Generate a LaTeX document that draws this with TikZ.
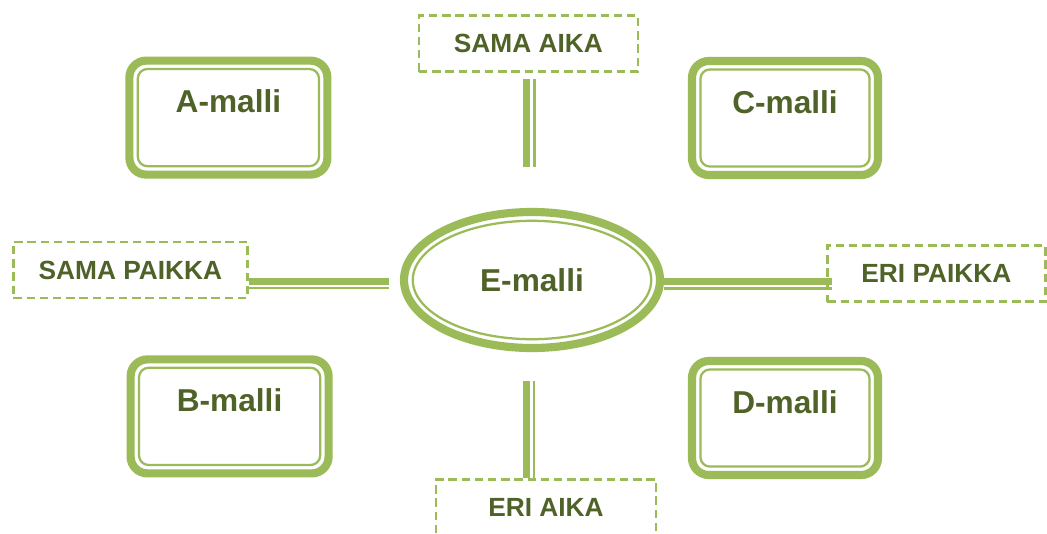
\documentclass[tikz,border=0pt]{standalone}
\usepackage{fontspec}
\setmainfont{Liberation Sans}
\usepackage{xcolor}
\usetikzlibrary{shapes.geometric,positioning}
\definecolor{leafgreen}{HTML}{9BBB59}
\definecolor{olivetext}{HTML}{4F6228}

\begin{document}
\begin{tikzpicture}[
    model/.style={rectangle, draw=leafgreen, line width=5.8pt, fill=white, rounded corners=0.42cm, minimum width=4.95cm, minimum height=2.85cm, inner sep=0pt, text height=0.6cm, text depth=0.85cm, text=olivetext, font=\bfseries\fontsize{22.5}{27}\selectfont,
        path picture={\draw[leafgreen, line width=1.6pt, rounded corners=0.24cm] ([shift={(0.21cm,0.21cm)}]path picture bounding box.south west) rectangle ([shift={(-0.21cm,-0.21cm)}]path picture bounding box.north east);}},
    core/.style={ellipse, draw=leafgreen, line width=5.8pt, fill=white, minimum width=6.4cm, minimum height=3.4cm, inner sep=0pt, text=olivetext, font=\bfseries\fontsize{22.5}{27}\selectfont,
        path picture={\draw[leafgreen, line width=1.6pt] (path picture bounding box.center) ellipse [x radius=2.98cm, y radius=1.48cm];}},
    tag/.style={rectangle, draw=leafgreen, line width=1.7pt, dash pattern=on 0.21cm off 0.12cm, minimum height=1.4cm, inner sep=0pt, text=olivetext, font=\bfseries\fontsize{18.7}{22}\selectfont},
    bar/.style={draw=leafgreen, line width=5.2pt},
    rail/.style={draw=leafgreen, line width=2pt}
]
    \useasboundingbox (0,0) rectangle (26.175,-13.325);

    % Centre ellipse
    \node[core] (emalli) at (13.3,-7.0) {E-malli};

    % Model boxes in the four corners
    \node[model] (amalli) at (5.71,-2.94) {A-malli};
    \node[model] (bmalli) at (5.74,-10.41) {B-malli};
    \node[model, minimum width=4.65cm] (cmalli) at (19.625,-2.95) {C-malli};
    \node[model, minimum width=4.65cm] (dmalli) at (19.625,-10.45) {D-malli};

    % Dashed labels
    \node[tag, minimum width=5.47cm] (samaaika) at (13.21,-1.09) {SAMA AIKA};
    \node[tag, minimum width=5.85cm] (samapaikka) at (3.26,-6.75) {SAMA PAIKKA};
    \node[tag, minimum width=5.45cm] (eripaikka) at (23.41,-6.84) {ERI PAIKKA};
    \node[tag, minimum width=5.5cm] (eriaika) at (13.65,-12.69) {ERI AIKA};

    % Thick-thin links (thick bar plus thin rail beside it)
    \draw[bar, transform canvas={xshift=-0.05cm}, shorten <=0.16cm, shorten >=1.03cm] (samaaika.south) -- (samaaika.south |- emalli.north);
    \draw[rail, transform canvas={xshift=0.145cm}, shorten <=0.16cm, shorten >=1.03cm] (samaaika.south) -- (samaaika.south |- emalli.north);

    \draw[bar, transform canvas={xshift=-0.14cm}, shorten <=0.72cm] (emalli.south) -- (emalli.south |- eriaika.north);
    \draw[rail, transform canvas={xshift=0.05cm}, shorten <=0.72cm] (emalli.south) -- (emalli.south |- eriaika.north);

    \draw[bar, transform canvas={yshift=-0.04cm}, shorten >=0.28cm] (samapaikka.east |- emalli.west) -- (emalli.west);
    \draw[rail, transform canvas={yshift=-0.2cm}, shorten >=0.28cm] (samapaikka.east |- emalli.west) -- (emalli.west);

    \draw[bar, transform canvas={yshift=-0.035cm}, shorten >=-0.15cm] (emalli.east) -- (eripaikka.west |- emalli.east);
    \draw[rail, transform canvas={yshift=-0.22cm}, shorten >=-0.15cm] (emalli.east) -- (eripaikka.west |- emalli.east);
\end{tikzpicture}
\end{document}
